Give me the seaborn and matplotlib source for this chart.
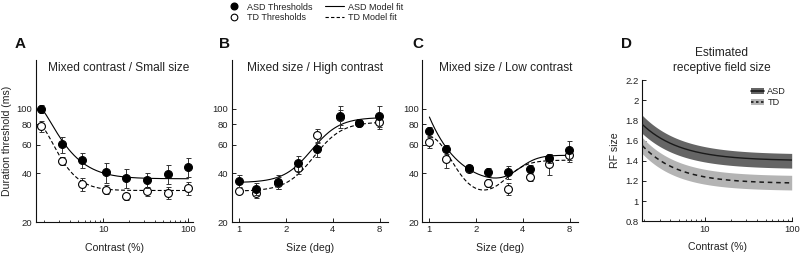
import numpy as np
import pandas as pd
import seaborn as sns
import matplotlib
matplotlib.use("Agg")
import matplotlib.pyplot as plt
from matplotlib.lines import Line2D
from matplotlib.patches import Patch
from matplotlib.ticker import FixedLocator, NullFormatter, NullLocator, LogLocator, FixedFormatter

# ---------------- data ----------------
contrast_A = [1.86, 3.3, 5.66, 10.6, 18.3, 32.4, 56.9, 100]
asd_A = [100, 60.2, 48.0, 40.5, 37.6, 36.2, 39.6, 43.7]
asd_A_err = [5.8, 6.6, 5.2, 5.5, 5.1, 3.9, 5.1, 5.7]
td_A = [78.4, 47.6, 34.2, 31.6, 28.9, 31.1, 30.4, 32.2]
td_A_err = [6.1, 2.8, 3.0, 2.0, 1.5, 2.0, 2.5, 3.0]

size_BC = [1.0, 1.285, 1.795, 2.39, 3.19, 4.43, 5.9, 7.96]
asd_B = [35.9, 32.0, 35.4, 46.0, 56.1, 90.2, 82.2, 90.6]
asd_B_err = [3.0, 2.8, 3.4, 5.0, 5.4, 13.7, 3.1, 13.7]
td_B = [31.1, 30.4, 34.9, 42.9, 68.7, 88.6, 82.2, 82.5]
td_B_err = [1.0, 2.2, 2.8, 3.3, 6.1, 9.5, 2.0, 8.0]

asd_C = [72.7, 56.4, 42.9, 40.7, 40.5, 42.3, 49.4, 55.8]
asd_C_err = [4.9, 3.5, 1.8, 2.3, 3.9, 2.4, 3.4, 7.6]
td_C = [62.5, 49.2, 42.5, 35.0, 31.9, 38.1, 45.6, 51.5]
td_C_err = [4.9, 5.9, 1.6, 2.0, 2.7, 2.4, 6.7, 4.4]

# model-fit parameters (log10 threshold = floor + D*exp(-(u/w)^p) + (hi-floor)*logistic((u-m)/s))
# u = log10(x / x_first)
fitA_asd = dict(floor=1.568, D=0.432, w=0.36, p=1.3, hi=1.568, m=1.0, s=0.1)
fitA_td = dict(floor=1.4955, D=0.397, w=0.30, p=1.45, hi=1.4955, m=1.0, s=0.1)
fitB_asd = dict(floor=1.544, D=0.0, w=1.0, p=1.0, hi=1.947, m=0.467, s=0.0903)
fitB_td = dict(floor=1.491, D=0.0, w=1.0, p=1.0, hi=1.919, m=0.482, s=0.0903)
fitC_asd = dict(floor=1.50, D=0.449, w=0.199, p=1.0, hi=1.709, m=0.575, s=0.0659)
fitC_td = dict(floor=1.46, D=0.366, w=0.199, p=2.0, hi=1.683, m=0.497, s=0.0662)

# receptive-field estimate (panel D): value = plateau + amp*exp(-log10(c/c0)/w)
rf_contrast_range = [1.9, 100]
rf_asd = dict(plateau=1.40, amp=0.36, w=0.44)
rf_asd_hi = dict(plateau=1.465, amp=0.385, w=0.44)
rf_asd_lo = dict(plateau=1.32, amp=0.35, w=0.44)
rf_td = dict(plateau=1.175, amp=0.375, w=0.41)
rf_td_hi = dict(plateau=1.25, amp=0.38, w=0.41)
rf_td_lo = dict(plateau=1.105, amp=0.365, w=0.41)


def fit_curve(x, x0, floor, D, w, p, hi, m, s):
    u = np.log10(x / x0)
    val = floor + D * np.exp(-(u / w) ** p) + (hi - floor) / (1 + np.exp(-(u - m) / s))
    return 10 ** val


def rf_curve(c, c0, plateau, amp, w):
    return plateau + amp * np.exp(-np.log10(c / c0) / w)


# ---------------- style ----------------
sns.set_style("ticks")
plt.rcParams["font.family"] = ["Liberation Sans", "DejaVu Sans"]
plt.rcParams["xtick.direction"] = "in"
plt.rcParams["ytick.direction"] = "in"
TXT = "#222222"
plt.rcParams["text.color"] = TXT
plt.rcParams["axes.labelcolor"] = TXT
plt.rcParams["xtick.color"] = TXT
plt.rcParams["ytick.color"] = TXT

W, H = 800, 254
fig = plt.figure(figsize=(8.0, 2.54), dpi=100)


def ax_at(left, right, top, bottom):
    return fig.add_axes([left / W, 1 - bottom / H, (right - left) / W, (bottom - top) / H])


axA = ax_at(35.7, 193, 60, 222)
axB = ax_at(231.7, 388.3, 60, 222)
axC = ax_at(422.3, 578.3, 60, 222)
axD = ax_at(642.3, 791.7, 80, 221.3)

TICK_FS = 6.8
LABEL_FS = 7.6
TITLE_FS = 8.6


def draw_thresh(ax, x, asd, asd_err, td, td_err, fa, fb, xgrid):
    x = np.asarray(x, float)
    sns.lineplot(x=xgrid, y=fit_curve(xgrid, x[0], **fb), ax=ax, color="black",
                 lw=0.8, linestyle=(0, (3.5, 2)), zorder=2)
    sns.lineplot(x=xgrid, y=fit_curve(xgrid, x[0], **fa), ax=ax, color="black",
                 lw=0.8, zorder=2)
    ax.errorbar(x, td, yerr=td_err, fmt="none", ecolor="#333333", elinewidth=0.7,
                capsize=1.8, capthick=0.7, zorder=3)
    sns.scatterplot(x=x, y=td, ax=ax, color="white", edgecolor="black", linewidth=0.8,
                    s=32, zorder=4)
    ax.errorbar(x, asd, yerr=asd_err, fmt="none", ecolor="#333333", elinewidth=0.7,
                capsize=1.8, capthick=0.7, zorder=5)
    sns.scatterplot(x=x, y=asd, ax=ax, color="black", edgecolor="black", linewidth=0.8,
                    s=32, zorder=6)
    ax.set_yscale("log")
    ax.set_ylim(20, 200)
    ax.yaxis.set_major_locator(FixedLocator([20, 40, 60, 80, 100]))
    ax.yaxis.set_major_formatter(FixedFormatter(["20", "40", "60", "80", "100"]))
    ax.yaxis.set_minor_locator(NullLocator())
    ax.tick_params(labelsize=TICK_FS, length=3, width=0.7, pad=2.5)
    ax.tick_params(which="minor", length=1.8, width=0.6)
    for sp in ["left", "bottom"]:
        ax.spines[sp].set_linewidth(0.8)
        ax.spines[sp].set_color("#111111")
    sns.despine(ax=ax)
    ax.set_ylabel("")


# Panel A
xgA = np.geomspace(contrast_A[0], contrast_A[-1], 300)
draw_thresh(axA, contrast_A, asd_A, asd_A_err, td_A, td_A_err, fitA_asd, fitA_td, xgA)
axA.set_xscale("log")
axA.set_xlim(1.6, 113)
axA.xaxis.set_major_locator(FixedLocator([10, 100]))
axA.xaxis.set_major_formatter(FixedFormatter(["10", "100"]))
axA.xaxis.set_minor_locator(LogLocator(base=10, subs=np.arange(2, 10)))
axA.xaxis.set_minor_formatter(NullFormatter())
axA.set_xlabel("Contrast (%)", fontsize=LABEL_FS, labelpad=6)
axA.set_ylabel("Duration threshold (ms)", fontsize=LABEL_FS)
axA.yaxis.set_label_coords((12.5 - 35.7) / 157.3, 0.5)
axA.text(0.53, 0.95, "Mixed contrast / Small size", transform=axA.transAxes,
         ha="center", va="center", fontsize=TITLE_FS)

# Panels B, C
xgBC = np.geomspace(size_BC[0], 8.0, 300)
for ax, asd, ae, td, te, fa, fb, title in [
    (axB, asd_B, asd_B_err, td_B, td_B_err, fitB_asd, fitB_td, "Mixed size / High contrast"),
    (axC, asd_C, asd_C_err, td_C, td_C_err, fitC_asd, fitC_td, "Mixed size / Low contrast"),
]:
    draw_thresh(ax, size_BC, asd, ae, td, te, fa, fb, xgBC)
    ax.set_xscale("log", base=2)
    ax.set_xlim(0.9, 9.1)
    ax.xaxis.set_major_locator(FixedLocator([1, 2, 4, 8]))
    ax.xaxis.set_major_formatter(FixedFormatter(["1", "2", "4", "8"]))
    ax.xaxis.set_minor_locator(NullLocator())
    ax.set_xlabel("Size (deg)", fontsize=LABEL_FS, labelpad=6)
    ax.text(0.535, 0.95, title, transform=ax.transAxes, ha="center", va="center",
            fontsize=TITLE_FS)

# Panel D
cg = np.geomspace(rf_contrast_range[0], rf_contrast_range[1], 300)
c0 = rf_contrast_range[0]
axD.fill_between(cg, rf_curve(cg, c0, **rf_td_lo), rf_curve(cg, c0, **rf_td_hi),
                 color="#b4b4b4", lw=0, zorder=1)
axD.fill_between(cg, rf_curve(cg, c0, **rf_asd_lo), rf_curve(cg, c0, **rf_asd_hi),
                 color="#656565", lw=0, zorder=2)
sns.lineplot(x=cg, y=rf_curve(cg, c0, **rf_td), ax=axD, color="#1a1a1a", lw=1.1,
             linestyle=(0, (3, 2.5)), zorder=3)
sns.lineplot(x=cg, y=rf_curve(cg, c0, **rf_asd), ax=axD, color="#1a1a1a", lw=1.0, zorder=4)
axD.set_xscale("log")
axD.set_xlim(1.9, 100)
axD.set_ylim(0.8, 2.2)
axD.xaxis.set_major_locator(FixedLocator([10, 100]))
axD.xaxis.set_major_formatter(FixedFormatter(["10", "100"]))
axD.xaxis.set_minor_locator(LogLocator(base=10, subs=np.arange(2, 10)))
axD.xaxis.set_minor_formatter(NullFormatter())
yt = [0.8, 1.0, 1.2, 1.4, 1.6, 1.8, 2.0, 2.2]
axD.yaxis.set_major_locator(FixedLocator(yt))
axD.yaxis.set_major_formatter(FixedFormatter(["0.8", "1", "1.2", "1.4", "1.6", "1.8", "2", "2.2"]))
axD.tick_params(labelsize=TICK_FS, length=3, width=0.7, pad=2.5)
axD.tick_params(which="minor", length=1.8, width=0.6)
for sp in ["left", "bottom"]:
    axD.spines[sp].set_linewidth(0.8)
    axD.spines[sp].set_color("#111111")
sns.despine(ax=axD)
axD.set_xlabel("Contrast (%)", fontsize=LABEL_FS, labelpad=6)
axD.set_ylabel("RF size", fontsize=LABEL_FS, labelpad=4)
fig.text(721.7 / W, 1 - 60.5 / H, "Estimated\nreceptive field size", ha="center",
         va="center", fontsize=TITLE_FS, linespacing=1.25)

h_asd = (Patch(facecolor="#656565", edgecolor="none"),
         Line2D([], [], color="#1a1a1a", lw=1.2))
h_td = (Patch(facecolor="#b4b4b4", edgecolor="none"),
        Line2D([], [], color="#1a1a1a", lw=1.2, linestyle=(0, (1.5, 1.5))))
axD.legend([h_asd, h_td], ["ASD", "TD"], loc="upper right", bbox_to_anchor=(1.0, 0.99),
           frameon=False, fontsize=6.6, handlelength=1.4, handleheight=0.6,
           handletextpad=0.4, labelspacing=0.25, borderaxespad=0.2)

# Top legend
hl = [Line2D([], [], marker="o", ls="none", color="black", markerfacecolor="black", ms=4.8),
      Line2D([], [], marker="o", ls="none", color="black", markerfacecolor="white", ms=4.8, mew=0.8),
      Line2D([], [], color="black", lw=0.8),
      Line2D([], [], color="black", lw=0.8, linestyle=(0, (3, 2)))]
ll = ["ASD Thresholds", "TD Thresholds", "ASD Model fit", "TD Model fit"]
fig.legend(hl, ll, ncol=2, loc="upper center", bbox_to_anchor=(314 / W, 1.022),
           frameon=False, fontsize=6.5, handlelength=2.0, handletextpad=0.45,
           columnspacing=1.4, labelspacing=0.15)

# Panel letters
for lbl, xp in [("A", 20), ("B", 224), ("C", 418), ("D", 626)]:
    fig.text(xp / W, 1 - 44 / H, lbl, ha="center", va="center", fontsize=11,
             fontweight="bold", color="#111111")

fig.savefig("out.png", dpi=100)
